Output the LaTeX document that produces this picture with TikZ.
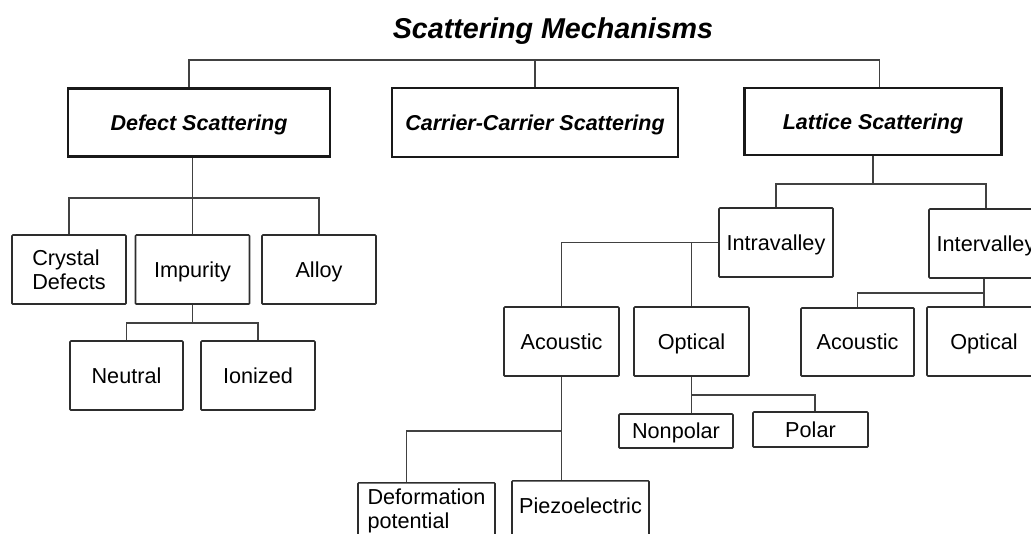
\documentclass[tikz,border=0pt]{standalone}
\usepackage{fontspec}
\setmainfont{Liberation Sans}
\definecolor{boxgray}{RGB}{45,45,45}
\definecolor{linkgray}{RGB}{65,65,65}

\begin{document}
\begin{tikzpicture}[
    mech/.style={draw=black!90, line width=2.1pt, minimum width=6.55cm, minimum height=1.7cm,
                 text height=11pt, text depth=0pt,
                 font=\fontsize{15.3}{18}\selectfont\bfseries\itshape},
    leaf/.style={draw=boxgray, line width=1.1pt, rounded corners=0.6pt,
                 minimum width=2.85cm, minimum height=1.725cm,
                 text height=11pt, text depth=0pt,
                 align=left, font=\fontsize{15.4}{17}\selectfont},
    link/.style={draw=linkgray, line width=1.1pt}
  ]
    \useasboundingbox (0,0) rectangle (25.775,-13.325);
    \clip (0,0) rectangle (25.775,-13.325);

    \node[anchor=base, font=\fontsize{20.4}{24}\selectfont\bfseries\itshape] (title) at (13.825,-0.95) {Scattering Mechanisms};

    % three main mechanisms
    \node[mech] (defect) at (4.975,-3.06) {Defect Scattering};
    \node[mech, minimum width=7.15cm, minimum height=1.725cm] (carrier) at (13.375,-3.0625) {Carrier-Carrier Scattering};
    \node[mech, minimum width=6.425cm, minimum height=1.675cm] (lattice) at (21.825,-3.0375) {Lattice Scattering};

    \coordinate (top) at (13.425,-1.5);
    \draw[link] ([xshift=-0.25cm]defect.north) |- (top) -| ([xshift=0.16cm]lattice.north);
    \draw[link] (carrier.north) -- (carrier.north |- top);

    % defect branch
    \node[leaf, text height=28pt] (crystal) at (1.725,-6.7375) {Crystal\\Defects};
    \node[leaf] (impurity) at (4.8125,-6.7375) {Impurity};
    \node[leaf] (alloy) at (7.975,-6.7375) {Alloy};
    \node[leaf, minimum width=2.825cm] (neutral) at (3.1625,-9.3875) {Neutral};
    \node[leaf] (ionized) at (6.45,-9.3875) {Ionized};

    \coordinate (dbar) at (4.8125,-4.95);
    \draw[link] (crystal.north) |- (dbar) -| (alloy.north);
    \draw[link] (defect.south -| dbar) -- (impurity.north);
    \coordinate (ibar) at (4.8125,-8.075);
    \draw[link] (neutral.north) |- (ibar) -| (ionized.north);
    \draw[link] (impurity.south) -- (ibar);

    % lattice branch
    \node[leaf] (intra) at (19.4,-6.0625) {Intravalley};
    \node[leaf] (inter) at (24.65,-6.0875) {Intervalley};
    \coordinate (lbar) at (21.825,-4.6);
    \draw[link] (lattice.south) -- (lbar);
    \draw[link] (intra.north) |- (lbar) -| (inter.north);

    \node[leaf, minimum width=2.875cm] (intraac) at (14.0375,-8.5375) {Acoustic};
    \node[leaf, minimum width=2.875cm] (intraop) at (17.2875,-8.5375) {Optical};
    \draw[link] (intra.west) -| (intraac.north);
    \draw[link] (intraop.north |- intra.west) -- (intraop.north);

    \node[leaf, minimum width=2.825cm, minimum height=1.7cm] (interac) at (21.4375,-8.55) {Acoustic};
    \node[leaf] (interop) at (24.6,-8.5375) {Optical};
    \coordinate (vbar) at (24.6,-7.325);
    \draw[link] (inter.south -| interop) -- (interop.north);
    \draw[link] (vbar) -| (interac.north);

    % acoustic modes (boxes run off the bottom)
    \node[leaf, anchor=north, minimum width=3.425cm, minimum height=0pt,
          inner ysep=4.6pt, text height=28pt, text depth=1.5cm] (deform) at (10.6625,-12.05) {Deformation\\potential};
    \node[leaf, anchor=north, minimum width=3.425cm, minimum height=0pt,
          inner ysep=12.4pt, text depth=1.5cm] (piezo) at (14.5125,-12.0) {Piezoelectric};
    \coordinate (abar) at (14.0375,-10.775);
    \draw[link] (intraac.south) -- (intraac.south |- piezo.north);
    \draw[link] (abar) -| ([xshift=-0.5cm]deform.north);

    % optical modes
    \node[leaf, minimum height=0.85cm] (nonpolar) at (16.9,-10.775) {Nonpolar};
    \node[leaf, minimum width=2.875cm, minimum height=0.875cm] (polar) at (20.2625,-10.7375) {Polar};
    \coordinate (obar) at (17.2875,-9.875);
    \draw[link] (intraop.south) -- (intraop.south |- nonpolar.north);
    \draw[link] (obar) -| ([xshift=0.11cm]polar.north);
\end{tikzpicture}
\end{document}
